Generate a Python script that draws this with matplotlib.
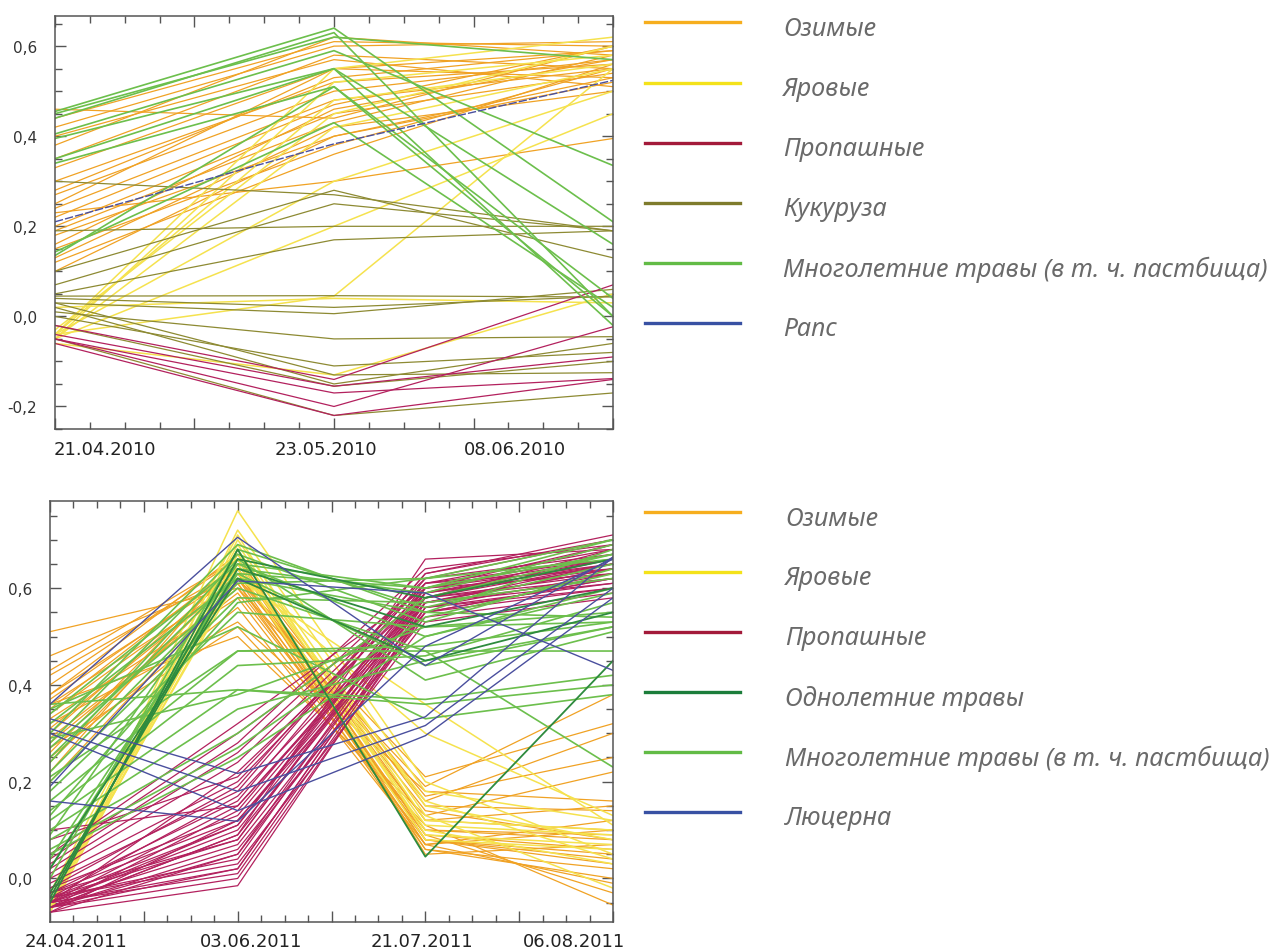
import matplotlib
matplotlib.use("Agg")
import matplotlib.pyplot as plt
from matplotlib.ticker import MultipleLocator, FuncFormatter
from matplotlib.lines import Line2D

# ---- top panel (2010), values at three survey dates ----
dates_2010 = ["21.04.2010", "23.05.2010", "08.06.2010"]
label_pos_2010 = [0.18, 0.97, 1.65]

winter_2010 = [
    [0.46, 0.44, 0.60], [0.42, 0.60, 0.61], [0.38, 0.62, 0.58], [0.35, 0.58, 0.55],
    [0.33, 0.55, 0.59], [0.30, 0.52, 0.56], [0.27, 0.50, 0.57], [0.25, 0.55, 0.53],
    [0.24, 0.48, 0.55], [0.22, 0.47, 0.60], [0.20, 0.45, 0.54], [0.19, 0.43, 0.58],
    [0.18, 0.40, 0.52], [0.16, 0.46, 0.57], [0.15, 0.38, 0.55], [0.13, 0.42, 0.50],
    [0.12, 0.36, 0.56], [0.10, 0.40, 0.53], [0.28, 0.53, 0.59], [0.23, 0.30, 0.395],
    [0.44, 0.61, 0.60], [0.40, 0.57, 0.51],
]
spring_2010 = [
    [-0.04, 0.55, 0.62], [-0.05, 0.52, 0.58], [-0.04, 0.48, 0.56], [-0.03, 0.45, 0.60],
    [-0.05, 0.42, 0.55], [-0.04, 0.30, 0.50], [-0.05, 0.20, 0.45], [-0.04, 0.045, 0.55],
    [-0.06, -0.13, 0.05], [0.02, 0.04, 0.03],
]
row_2010 = [
    [-0.02, -0.14, 0.07], [-0.04, -0.155, -0.09], [-0.05, -0.17, -0.138],
    [-0.05, -0.20, -0.023], [-0.06, -0.22, -0.14],
]
maize_2010 = [
    [0.30, 0.27, 0.19], [0.19, 0.20, 0.20], [0.10, 0.28, 0.13], [0.07, 0.25, 0.19],
    [0.05, 0.17, 0.19], [0.045, 0.046, 0.043], [0.04, 0.02, 0.045], [0.03, 0.006, 0.06],
    [0.01, -0.05, -0.045], [0.0, -0.11, -0.08], [-0.02, -0.155, -0.10],
    [0.03, -0.13, -0.125], [-0.05, -0.22, -0.17], [0.02, -0.15, -0.06],
]
grass_2010 = [
    [0.455, 0.64, 0.21], [0.44, 0.63, 0.0], [0.405, 0.59, 0.335], [0.395, 0.55, -0.02],
    [0.35, 0.55, 0.16], [0.34, 0.51, 0.0], [0.143, 0.43, 0.02], [0.135, 0.51, 0.04],
    [0.45, 0.62, 0.57],
]
rape_2010 = [[0.21, 0.383, 0.524]]

# ---- bottom panel (2011), values at four survey dates ----
dates_2011 = ["24.04.2011", "03.06.2011", "21.07.2011", "06.08.2011"]
label_pos_2011 = [0.14, 1.07, 1.98, 2.79]

winter_2011 = [
    [0.51, 0.60, 0.19, 0.38], [0.46, 0.62, 0.21, 0.32], [0.42, 0.64, 0.17, 0.25],
    [0.40, 0.66, 0.15, 0.14], [0.38, 0.63, 0.12, 0.10], [0.36, 0.61, 0.10, 0.08],
    [0.35, 0.65, 0.09, 0.06], [0.33, 0.58, 0.08, 0.04], [0.31, 0.62, 0.07, 0.10],
    [0.30, 0.64, 0.06, 0.02], [0.28, 0.60, 0.09, -0.03], [0.27, 0.52, 0.11, -0.055],
    [0.25, 0.56, 0.07, 0.12], [0.24, 0.63, 0.14, 0.08], [0.22, 0.66, 0.08, 0.05],
    [0.20, 0.61, 0.06, 0.00], [0.36, 0.50, 0.13, 0.22], [0.32, 0.53, 0.18, 0.16],
    [0.29, 0.59, 0.10, 0.09], [0.38, 0.67, 0.05, 0.07], [0.26, 0.65, 0.12, 0.15],
    [0.34, 0.62, 0.16, 0.30], [0.43, 0.66, 0.08, 0.03], [0.37, 0.64, 0.07, -0.01],
]
spring_2011 = [
    [-0.07, 0.76, 0.20, 0.05], [-0.06, 0.70, 0.15, 0.08], [-0.05, 0.68, 0.12, 0.10],
    [-0.06, 0.66, 0.10, 0.03], [-0.07, 0.72, 0.18, 0.12], [-0.05, 0.64, 0.08, 0.06],
    [-0.04, 0.69, 0.13, -0.02], [-0.06, 0.67, 0.16, 0.04], [-0.05, 0.62, 0.36, 0.11],
    [-0.07, 0.65, 0.11, 0.09], [-0.03, 0.71, 0.09, 0.07], [-0.06, 0.63, 0.30, 0.13],
]
row_2011 = [
    [-0.06, 0.00, 0.55, 0.62], [-0.05, 0.02, 0.57, 0.64], [-0.07, -0.015, 0.56, 0.63],
    [-0.04, 0.04, 0.58, 0.66], [-0.06, 0.05, 0.59, 0.65], [-0.05, 0.07, 0.56, 0.61],
    [-0.03, 0.08, 0.60, 0.67], [-0.06, 0.09, 0.57, 0.64], [-0.05, 0.10, 0.58, 0.68],
    [-0.04, 0.11, 0.61, 0.66], [-0.07, 0.12, 0.55, 0.60], [-0.02, 0.13, 0.59, 0.69],
    [-0.06, 0.14, 0.60, 0.63], [-0.05, 0.15, 0.57, 0.62], [-0.03, 0.16, 0.62, 0.70],
    [-0.04, 0.17, 0.58, 0.65], [-0.01, 0.18, 0.63, 0.71], [-0.06, 0.06, 0.54, 0.59],
    [0.00, 0.20, 0.60, 0.66], [-0.05, 0.22, 0.59, 0.64], [0.01, 0.24, 0.61, 0.68],
    [-0.04, 0.03, 0.53, 0.58], [0.02, 0.26, 0.62, 0.67], [-0.05, 0.01, 0.56, 0.60],
    [0.03, 0.28, 0.64, 0.69], [0.04, 0.30, 0.58, 0.63], [-0.06, 0.09, 0.66, 0.68],
    [0.05, 0.32, 0.60, 0.65], [-0.03, 0.12, 0.57, 0.61], [-0.07, 0.05, 0.55, 0.62],
    [-0.02, 0.19, 0.63, 0.70], [-0.04, 0.08, 0.59, 0.66], [0.08, 0.21, 0.61, 0.64],
    [0.10, 0.15, 0.58, 0.62], [-0.05, 0.11, 0.60, 0.69], [-0.06, 0.02, 0.57, 0.65],
]
annual_2011 = [
    [-0.05, 0.68, 0.045, 0.45], [-0.04, 0.66, 0.58, 0.66],
    [-0.03, 0.64, 0.52, 0.60], [0.02, 0.62, 0.45, 0.55],
]
grass_2011 = [
    [0.36, 0.39, 0.37, 0.42], [0.30, 0.69, 0.55, 0.68], [0.28, 0.67, 0.53, 0.64],
    [0.34, 0.65, 0.50, 0.60], [0.25, 0.63, 0.60, 0.70], [0.22, 0.61, 0.62, 0.66],
    [0.20, 0.58, 0.57, 0.62], [0.18, 0.55, 0.52, 0.55], [0.16, 0.47, 0.48, 0.53],
    [0.14, 0.44, 0.46, 0.57], [0.12, 0.39, 0.36, 0.40], [0.10, 0.35, 0.45, 0.52],
    [0.08, 0.30, 0.58, 0.67], [0.06, 0.27, 0.54, 0.63], [0.05, 0.25, 0.50, 0.59],
    [0.27, 0.60, 0.47, 0.23], [0.24, 0.66, 0.41, 0.51], [0.32, 0.62, 0.55, 0.54],
    [0.02, 0.64, 0.59, 0.69], [0.00, 0.68, 0.56, 0.65], [0.04, 0.63, 0.44, 0.52],
    [0.35, 0.52, 0.33, 0.38], [0.29, 0.38, 0.52, 0.53], [0.13, 0.57, 0.62, 0.70],
    [0.21, 0.47, 0.47, 0.47], [0.09, 0.65, 0.60, 0.67],
]
alfalfa_2011 = [
    [0.36, 0.705, 0.44, 0.664], [0.19, 0.615, 0.59, 0.43], [0.33, 0.217, 0.334, 0.664],
    [0.31, 0.18, 0.316, 0.60], [0.16, 0.118, 0.48, 0.66], [0.30, 0.14, 0.295, 0.58],
]

legend_2010 = ["Озимые", "Яровые", "Пропашные", "Кукуруза",
               "Многолетние травы (в т. ч. пастбища)", "Рапс"]
legend_colors_2010 = ["#f6ae1e", "#f4e21a", "#a31a3a", "#7e7b2c", "#62bb46", "#3851a3"]
legend_2011 = ["Озимые", "Яровые", "Пропашные", "Однолетние травы",
               "Многолетние травы (в т. ч. пастбища)", "Люцерна"]
legend_colors_2011 = ["#f6ae1e", "#f4e21a", "#a31a3a", "#1b7d3a", "#62bb46", "#3851a3"]

c_winter = "#f0a224"
c_spring = "#f5e24e"
c_row = "#b3215e"
c_maize = "#8d8a33"
c_grass = "#6cbf4c"
c_annual = "#2e8b3e"
c_blue = "#4a4f9e"


def comma_fmt(v, pos):
    v = round(v, 2)
    if abs(v) < 1e-9:
        v = 0.0
    return ("%.1f" % v).replace(".", ",")


def style_axes(ax, xmax, ymin, ymax):
    ax.set_xlim(0, xmax)
    ax.set_ylim(ymin, ymax)
    ax.xaxis.set_major_locator(MultipleLocator(0.5))
    ax.xaxis.set_minor_locator(MultipleLocator(0.125))
    ax.yaxis.set_major_locator(MultipleLocator(0.2))
    ax.yaxis.set_minor_locator(MultipleLocator(0.05))
    ax.yaxis.set_major_formatter(FuncFormatter(comma_fmt))
    ax.tick_params(which="both", direction="in", top=True, right=True,
                   color="#555555", width=1.0)
    ax.tick_params(which="major", length=8)
    ax.tick_params(which="minor", length=5)
    ax.tick_params(axis="x", labelbottom=False)
    ax.tick_params(axis="y", labelsize=11, labelcolor="#333333", pad=13)
    for s in ax.spines.values():
        s.set_color("#555555")
        s.set_linewidth(1.1)


def draw(ax, lines, color, lw=0.9, **kw):
    for vals in lines:
        ax.plot(range(len(vals)), vals, color=color, lw=lw, **kw)


fig = plt.figure(figsize=(12.75, 9.53), dpi=100)

ax1 = fig.add_axes([0.0431, 0.5488, 0.4377, 0.4334])
draw(ax1, winter_2010, c_winter)
draw(ax1, spring_2010, c_spring, lw=1.1)
draw(ax1, maize_2010, c_maize)
draw(ax1, row_2010, c_row)
draw(ax1, grass_2010, c_grass, lw=1.2)
draw(ax1, rape_2010, c_blue, lw=1.0, ls=(0, (6, 1.5)))
style_axes(ax1, 2, -0.25, 0.667)
for x, lab in zip(label_pos_2010, dates_2010):
    ax1.text(x, -0.048, lab, transform=ax1.get_xaxis_transform(), ha="center",
             va="center", fontsize=13, color="#222222")

ax2 = fig.add_axes([0.0392, 0.0315, 0.4416, 0.4417])
draw(ax2, winter_2011, c_winter)
draw(ax2, spring_2011, c_spring, lw=1.1)
draw(ax2, row_2011, c_row)
draw(ax2, grass_2011, c_grass, lw=1.2)
draw(ax2, annual_2011, c_annual, lw=1.3)
draw(ax2, alfalfa_2011, c_blue, lw=1.0)
style_axes(ax2, 3, -0.09, 0.78)
for x, lab in zip(label_pos_2011, dates_2011):
    ax2.text(x, -0.045, lab, transform=ax2.get_xaxis_transform(), ha="center",
             va="center", fontsize=13, color="#222222")

# legends drawn as free lines + text on the figure
W, H = 1275, 953


def legend(rows_y, labels, colors, text_x):
    for y, lab, col in zip(rows_y, labels, colors):
        fig.add_artist(Line2D([645 / W, 740 / W], [1 - y / H, 1 - y / H],
                              color=col, lw=2.4, transform=fig.transFigure))
        fig.text(text_x / W, 1 - (y + 6) / H, lab, fontsize=18.2, style="italic",
                 family=["Noto Sans", "DejaVu Sans"], color="#6a6a6a",
                 ha="left", va="center")


legend([23, 84, 144, 204, 264, 324], legend_2010, legend_colors_2010, 783)
legend([513, 573, 633, 693, 753, 813], legend_2011, legend_colors_2011, 785)

fig.savefig("out.png", dpi=100, facecolor="white")
